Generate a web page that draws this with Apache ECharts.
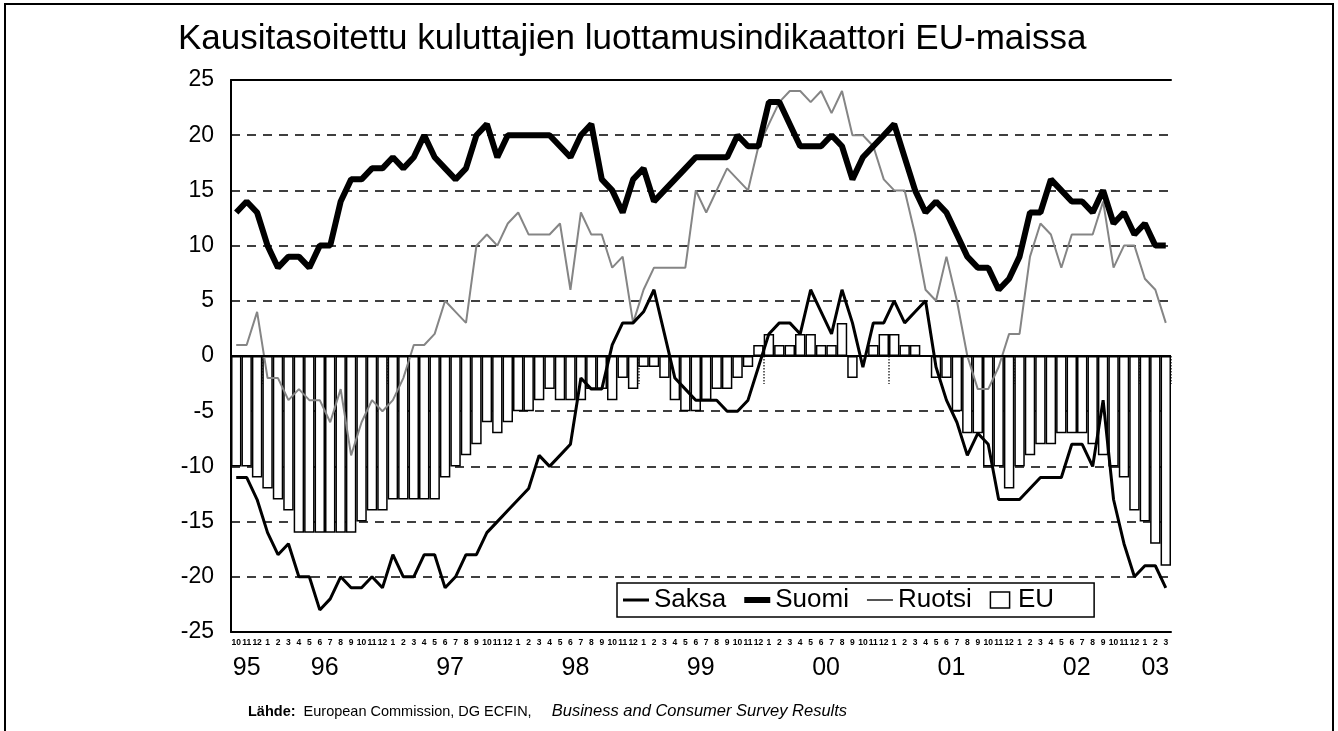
<!DOCTYPE html>
<html>
<head>
<meta charset="utf-8">
<title>Kuluttajien luottamusindikaattori</title>
<script src="https://cdn.jsdelivr.net/npm/echarts@6/dist/echarts.min.js"></script>
<style>
    html, body { margin: 0; padding: 0; background: #fff; }
    #chart { width: 1338px; height: 731px; }
</style>
</head>
<body>
<div id="chart"></div>
<script>
    // kuukaudet 10/1995 - 3/2003
    const monthLabels = ['10', '11', '12',
        '1', '2', '3', '4', '5', '6', '7', '8', '9', '10', '11', '12',
        '1', '2', '3', '4', '5', '6', '7', '8', '9', '10', '11', '12',
        '1', '2', '3', '4', '5', '6', '7', '8', '9', '10', '11', '12',
        '1', '2', '3', '4', '5', '6', '7', '8', '9', '10', '11', '12',
        '1', '2', '3', '4', '5', '6', '7', '8', '9', '10', '11', '12',
        '1', '2', '3', '4', '5', '6', '7', '8', '9', '10', '11', '12',
        '1', '2', '3', '4', '5', '6', '7', '8', '9', '10', '11', '12',
        '1', '2', '3'];
    const yearLabels = ['95', '96', '97', '98', '99', '00', '01', '02', '03'];

    const saksa = [-11, -11, -13, -16, -18, -17, -20, -20, -23, -22, -20, -21, -21, -20, -21, -18, -20, -20, -18, -18, -21, -20, -18, -18, -16, -15, -14,
        -13, -12, -9, -10, -9, -8, -2, -3, -3, 1, 3, 3, 4, 6, 2, -2, -3, -4, -4, -4, -5, -5, -4,
        -1, 2, 3, 3, 2, 6, 4, 2, 6, 3, -1, 3, 3, 5, 3, 4, 5,
        -1, -4, -6, -9, -7, -8, -13, -13, -13, -12, -11, -11, -11, -8, -8, -10, -4, -13, -17, -20, -19, -19, -21];
    const suomi = [13, 14, 13, 10, 8, 9, 9, 8, 10, 10, 14, 16, 16, 17, 17, 18, 17, 18, 20, 18, 17, 16, 17, 20, 21, 18,
        20, 20, 20, 20, 20, 19, 18, 20, 21, 16, 15, 13, 16, 17, 14, 15, 16, 17, 18, 18, 18, 18, 20, 19, 19,
        23, 23, 21, 19, 19, 19, 20, 19, 16, 18, 19, 20, 21, 18, 15, 13, 14, 13, 11, 9, 8, 8, 6, 7, 9,
        13, 13, 16, 15, 14, 14, 13, 15, 12, 13, 11, 12, 10, 10];
    const ruotsi = [1, 1, 4, -2, -2, -4, -3, -4, -4, -6, -3, -9, -6, -4, -5, -4, -2, 1, 1, 2, 5, 4, 3, 10, 11, 10, 12,
        13, 11, 11, 11, 12, 6, 13, 11, 11, 8, 9, 3, 6, 8, 8, 8, 8, 15, 13, 15, 17, 16, 15, 19,
        21, 23, 24, 24, 23, 24, 22, 24, 20, 20, 19, 16, 15, 15, 11, 6, 5, 9, 5, 0, -3, -3,
        -1, 2, 2, 9, 12, 11, 8, 11, 11, 11, 14, 8, 10, 10, 7, 6, 3];
    const eu = [-10, -10, -11, -12, -13, -14, -16, -16, -16, -16, -16, -16, -15, -14, -14, -13, -13, -13, -13, -13, -11, -10, -9, -8,
        -6, -7, -6, -5, -5, -4, -3, -4, -4, -4, -3, -3, -4, -2, -3, -1, -1, -2, -4, -5, -5, -4, -3, -3, -2, -1,
        1, 2, 1, 1, 2, 2, 1, 1, 3, -2, 0, 1, 2, 2, 1, 1, 0,
        -2, -2, -5, -7, -7, -10, -10, -12, -10, -9, -8, -8, -7, -7, -7, -8, -9, -10, -11, -14, -15, -17, -19];

    const FONT = '"Liberation Sans", Arial, sans-serif';

    // vuosiotsikko kunkin vuoden keskelle (parillinen määrä kk -> puoli saraketta oikealle)
    const yearAt = monthLabels.map(() => '');
    let start = 0, y = 0;
    for (let i = 1; i <= monthLabels.length; i++) {
        if (i === monthLabels.length || monthLabels[i] === '1') {
            let n = i - start;
            let tag = n % 2 === 0 ? 'h' : 'c';
            yearAt[start + Math.floor((n - 1) / 2)] = `{${tag}|${yearLabels[y]}}`;
            y++;
            start = i;
        }
    }

    let chart = echarts.init(document.getElementById('chart'));

    chart.setOption({
        animation: false,
        backgroundColor: '#fff',
        textStyle: {fontFamily: FONT, color: '#000'},
        title: {
            text: 'Kausitasoitettu kuluttajien luottamusindikaattori EU-maissa',
            left: 173,
            top: 17,
            textStyle: {fontSize: 35, fontWeight: 'normal', color: '#000', fontFamily: FONT}
        },
        graphic: [
            {
                type: 'rect',
                shape: {x: 5, y: 4, width: 1328, height: 760},
                style: {fill: 'none', stroke: '#000', lineWidth: 2},
                silent: true
            },
            {
                type: 'text',
                left: 248,
                top: 703,
                style: {
                    text: '{b|Lähde:}  European Commission, DG ECFIN,     {i|Business and Consumer Survey Results}',
                    fontSize: 14.5,
                    fontFamily: FONT,
                    fill: '#000',
                    rich: {
                        b: {fontWeight: 'bold', fontSize: 14.5, fontFamily: FONT},
                        i: {fontStyle: 'italic', fontSize: 16.5, fontFamily: FONT}
                    }
                }
            }
        ],
        legend: {
            data: [
                {name: 'Saksa', icon: 'path://M0,0H26V3H0Z', itemStyle: {color: '#000', borderWidth: 0}},
                {name: 'Suomi', icon: 'path://M0,0H26V6H0Z', itemStyle: {color: '#000', borderWidth: 0}},
                {name: 'Ruotsi', icon: 'path://M0,0H26V2H0Z', itemStyle: {color: '#555', borderWidth: 0}},
                {name: 'EU', icon: 'path://M0,0H18V15H0Z', itemStyle: {color: '#fff', borderColor: '#000', borderWidth: 1.5}}
            ],
            left: 617,
            top: 583,
            backgroundColor: '#fff',
            borderColor: '#000',
            borderWidth: 1.5,
            borderRadius: 0,
            padding: [4, 40, 4, 6],
            itemWidth: 26,
            itemHeight: 16,
            itemGap: 18,
            itemTextGap: 5,
            textStyle: {fontSize: 26, color: '#000', fontFamily: FONT}
        },
        grid: {left: 231, right: 167, top: 80, bottom: 99},
        xAxis: [
            {
                type: 'category',
                data: monthLabels,
                position: 'bottom',
                axisLine: {show: true, onZero: false, lineStyle: {color: '#000', width: 2}},
                axisTick: {show: false},
                axisLabel: {interval: 0, fontSize: 8.5, fontWeight: 'bold', color: '#000', margin: 6}
            },
            {
                type: 'category',
                data: monthLabels,
                position: 'bottom',
                offset: 20,
                axisLine: {show: false},
                axisTick: {
                    show: true,
                    length: 28,
                    interval: (idx) => monthLabels[idx] === '1',
                    lineStyle: {type: 'dotted', color: '#333', width: 1.5}
                },
                axisLabel: {
                    interval: 0,
                    margin: 4,
                    fontSize: 25,
                    color: '#000',
                    formatter: (v, idx) => yearAt[idx],
                    rich: {
                        c: {fontSize: 25, fontFamily: FONT},
                        h: {fontSize: 25, fontFamily: FONT, padding: [0, 0, 0, 10]}
                    }
                }
            },
            {
                type: 'category',
                data: monthLabels,
                position: 'top',
                axisLine: {show: true, lineStyle: {color: '#000', width: 2}},
                axisTick: {show: false},
                axisLabel: {show: false}
            }
        ],
        yAxis: {
            type: 'value',
            min: -25,
            max: 25,
            interval: 5,
            axisLine: {show: true, onZero: false, lineStyle: {color: '#000', width: 2}},
            axisTick: {show: false},
            axisLabel: {fontSize: 23, color: '#000', margin: 17},
            splitLine: {show: true, lineStyle: {type: [9, 7], color: '#000', width: 1.5}}
        },
        series: [
            {
                name: 'EU',
                type: 'bar',
                data: eu,
                barCategoryGap: '0%',
                itemStyle: {color: '#fff', borderColor: '#000', borderWidth: 1.5},
                markLine: {
                    silent: true,
                    symbol: 'none',
                    label: {show: false},
                    lineStyle: {color: '#000', width: 2, type: 'solid'},
                    data: [{yAxis: 0}]
                }
            },
            {
                name: 'Ruotsi',
                type: 'line',
                data: ruotsi,
                symbol: 'none',
                lineStyle: {color: '#858585', width: 2}
            },
            {
                name: 'Saksa',
                type: 'line',
                data: saksa,
                symbol: 'none',
                lineStyle: {color: '#000', width: 3}
            },
            {
                name: 'Suomi',
                type: 'line',
                data: suomi,
                symbol: 'none',
                lineStyle: {color: '#000', width: 6}
            }
        ]
    });
</script>
</body>
</html>
